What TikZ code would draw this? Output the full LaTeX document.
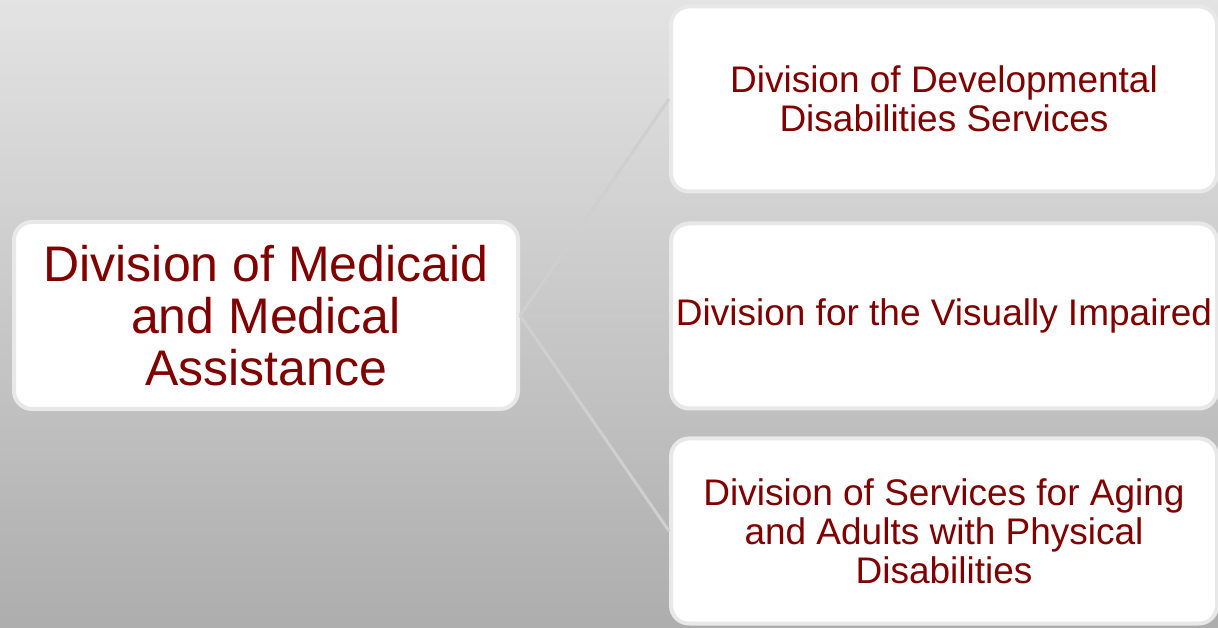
\documentclass[tikz,border=0pt]{standalone}
\usepackage{fontspec}
\setmainfont{Liberation Sans}
\usepackage{tikz}
\definecolor{divred}{HTML}{800000}
\definecolor{boxedge}{HTML}{E8E8E8}
\definecolor{linkgray}{HTML}{CFCFCF}

\begin{document}
\begin{tikzpicture}[x=1pt,y=1pt,
	divbox/.style={draw=boxedge, line width=4pt, fill=white, rounded corners=18pt,
		text=divred, align=center, inner sep=0pt},
	bigbox/.style={divbox, minimum width=504pt, minimum height=187pt,
		font=\fontsize{50}{52}\selectfont},
	subbox/.style={divbox, minimum width=546pt, minimum height=185pt,
		font=\fontsize{37}{39}\selectfont},
	link/.style={draw=linkgray, line width=3pt}]
	% background
	\shade[top color=black!11, bottom color=black!32] (0,0) rectangle (1218,627);
	\useasboundingbox (0,0) rectangle (1218,627);
	% boxes
	\node[bigbox] (med) at (266,311.5) {Division of Medicaid\\and Medical\\Assistance};
	\node[subbox] (dds) at (944,528) {Division of Developmental\\Disabilities Services};
	\node[subbox] (dvi) at (944,311) {Division for the Visually Impaired};
	\node[subbox] (dsa) at (944,96) {Division of Services for Aging\\and Adults with Physical\\Disabilities};
	% links
	\draw[link] (med.east) -- (dds.west);
	\draw[link, opacity=0.25] (med.east) -- (dvi.west);
	\draw[link] (med.east) -- (dsa.west);
\end{tikzpicture}
\end{document}
